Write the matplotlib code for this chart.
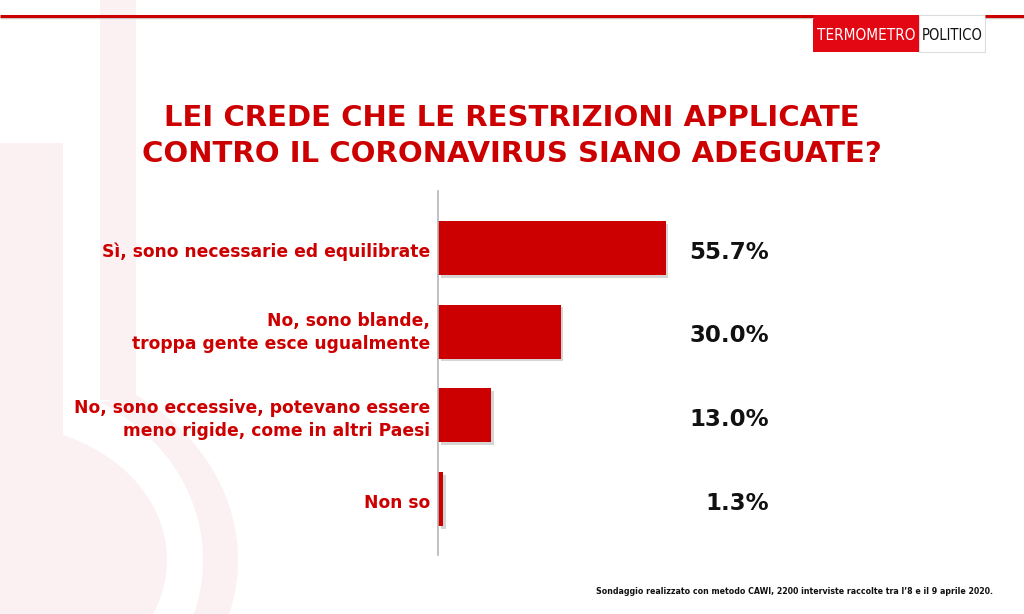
import numpy as np
import matplotlib
matplotlib.use('Agg')
import matplotlib.pyplot as plt
import matplotlib.patches as mpatches
import matplotlib.patheffects as pe

# data
categories = ['Sì, sono necessarie ed equilibrate',
              'No, sono blande,\ntroppa gente esce ugualmente',
              'No, sono eccessive, potevano essere\nmeno rigide, come in altri Paesi',
              'Non so']
values = [55.7, 30.0, 13.0, 1.3]
value_labels = ['55.7%', '30.0%', '13.0%', '1.3%']

title = 'LEI CREDE CHE LE RESTRIZIONI APPLICATE\nCONTRO IL CORONAVIRUS SIANO ADEGUATE?'
note = 'Sondaggio realizzato con metodo CAWI, 2200 interviste raccolte tra l\u20198 e il 9 aprile 2020.'

red = '#cc0000'
pink = '#fbf1f3'

plt.rcParams['font.family'] = ['DejaVu Sans']

fig = plt.figure(figsize=(10.24, 6.14), dpi=100)
fig.patch.set_facecolor('white')

# background layer in pixel coords
bg = fig.add_axes([0, 0, 1, 1], zorder=0)
bg.set_xlim(0, 1024)
bg.set_ylim(614, 0)
bg.axis('off')

# faint thermometer watermark
bg.add_patch(mpatches.Rectangle((100, 0), 36, 400, color=pink, lw=0))
bg.add_patch(mpatches.Rectangle((0, 143), 63, 471, color=pink, lw=0))
bg.add_patch(mpatches.Ellipse((0, 560), 334, 270, color=pink, lw=0))
t_out = np.deg2rad(np.linspace(-55, 90, 80))
t_in = np.deg2rad(np.linspace(90, -60.5, 80))
ring_x = np.concatenate([238 * np.cos(t_out), 203 * np.cos(t_in)])
ring_y = np.concatenate([560 + 201 * np.sin(t_out), 560 + 181 * np.sin(t_in)])
bg.add_patch(mpatches.Polygon(np.column_stack([ring_x, ring_y]), closed=True, color=pink, lw=0))

# top rule + logo
bg.plot([0, 813], [18, 18], color='#cccccc', lw=1.0, solid_capstyle='butt')
bg.plot([985, 1024], [18, 18], color='#cccccc', lw=1.0, solid_capstyle='butt')
bg.plot([0, 813], [15.5, 15.5], color=red, lw=2.2, solid_capstyle='butt')
bg.plot([985, 1024], [15.5, 15.5], color=red, lw=2.2, solid_capstyle='butt')
bg.add_patch(mpatches.Rectangle((919, 15), 66, 37, facecolor='white', edgecolor='#dddddd', lw=0.8))
bg.add_patch(mpatches.Rectangle((813, 15), 106, 37, facecolor='#e30613', lw=0))
bg.text(866, 35, 'TERMOMETRO', color='white', fontsize=11, ha='center', va='center',
        family=['Liberation Sans Narrow', 'DejaVu Sans'], fontstretch='condensed')
bg.text(952, 35, 'POLITICO', color='#111111', fontsize=10.5, ha='center', va='center',
        family=['Liberation Sans Narrow', 'DejaVu Sans'], fontstretch='condensed')

# title and note
fig.text(0.5, 1 - 136 / 614, title, color=red, fontsize=21, fontweight='bold',
         ha='center', va='center', linespacing=1.38)
fig.text(993 / 1024, 1 - 592 / 614, note, color='#111111', fontsize=5.7,
         fontweight='bold', ha='right', va='center')

# main bar axes
ax = fig.add_axes([438 / 1024, 59 / 614, 408.5 / 1024, 364 / 614], zorder=1)
ax.patch.set_alpha(0)
y = np.arange(len(categories))
bars = ax.barh(y, values, height=0.645, color=red, zorder=2)
for b in bars:
    b.set_path_effects([pe.SimplePatchShadow(offset=(2, -2), shadow_rgbFace='#888888', alpha=0.35),
                        pe.Normal()])

for yi, lab in zip(y, value_labels):
    ax.text(81.0, yi + 0.05, lab, ha='right', va='center', fontsize=16.5,
            fontweight='bold', color='#111111')

# category labels, small nudges to sit like the original
for yi, cat, dy in zip(y, categories, [0.05, 0.01, 0.05, 0.05]):
    ax.text(-1.95, yi + dy, cat, ha='right', va='center', fontsize=12.3,
            fontweight='bold', color=red, linespacing=1.3)

ax.set_xlim(0, 100)
ax.set_ylim(3.67, -0.68)
ax.set_yticks([])
ax.set_xticks([])
for s in ['top', 'right', 'bottom']:
    ax.spines[s].set_visible(False)
ax.spines['left'].set_color('#b5b5b5')
ax.spines['left'].set_linewidth(1.2)

fig.savefig('out.png', dpi=100, facecolor='white')
